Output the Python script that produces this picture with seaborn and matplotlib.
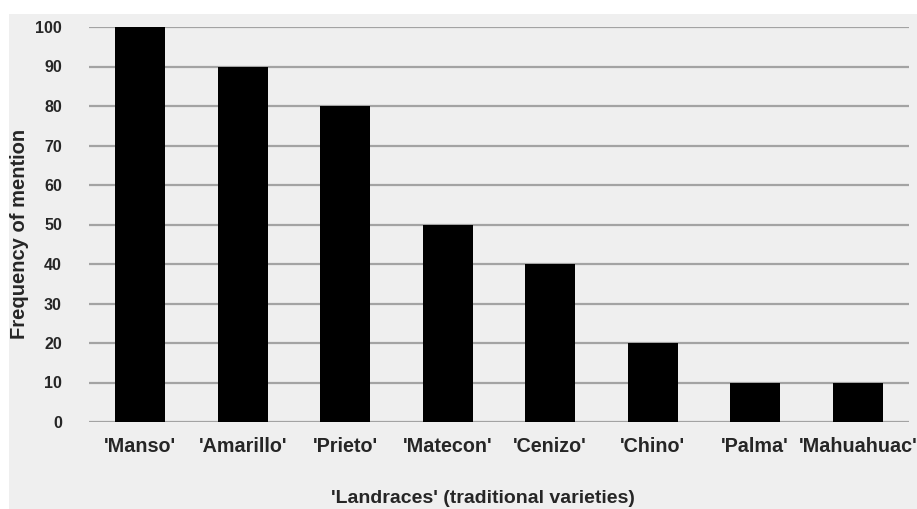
import numpy as np
import pandas as pd
import seaborn as sb
import matplotlib.pyplot as plt
from matplotlib.patches import Rectangle

# Frequency of mention per landrace
landraces = ["'Manso'", "'Amarillo'", "'Prieto'", "'Matecon'", "'Cenizo'", "'Chino'", "'Palma'", "'Mahuahuac'"]
frequency = [100, 90, 80, 50, 40, 20, 10, 10]
y_ticks = [0, 10, 20, 30, 40, 50, 60, 70, 80, 90, 100]

df = pd.DataFrame({'landrace': landraces, 'freq': frequency})

sb.set_style('white')
plt.rcParams['font.family'] = ['Liberation Sans', 'DejaVu Sans']
plt.rcParams['font.weight'] = 'bold'

fig = plt.figure(figsize=(9.17, 5.09), dpi=100)
fig.patch.set_facecolor('white')
# light gray panel behind the chart (white strip at top and left)
fig.patches.append(Rectangle((9 / 917, 0), 1, 1 - 14 / 509, transform=fig.transFigure,
                             facecolor='#efefef', edgecolor='none', zorder=-10))

ax = fig.add_axes([89 / 917, 1 - 422 / 509, 820 / 917, 395 / 509])
ax.set_facecolor('#efefef')

sb.barplot(data=df, x='landrace', y='freq', color='black', width=0.49,
           saturation=1, linewidth=0, edgecolor='black', ax=ax, zorder=3)

ax.set_ylim(0, 100)
ax.set_xlim(-0.5, len(landraces) - 0.5)
ax.set_yticks(y_ticks)
ax.yaxis.grid(True, color='#a3a3a3', linewidth=1.6, zorder=1)
ax.set_axisbelow(True)
for s in ax.spines.values():
    s.set_visible(False)
ax.tick_params(axis='both', length=0)
ax.tick_params(axis='y', labelsize=11.5, pad=19.5)
ax.tick_params(axis='x', labelsize=14.2, pad=11)
for lbl in ax.get_yticklabels() + ax.get_xticklabels():
    lbl.set_fontweight('bold')

ax.set_xlabel("'Landraces' (traditional varieties)", fontsize=14, fontweight='bold')
ax.set_ylabel('Frequency of mention', fontsize=14.5, fontweight='bold')
ax.xaxis.set_label_coords(0.48, -0.172)
ax.yaxis.set_label_coords(-0.073, 0.475)

fig.savefig('out.png', dpi=100)
